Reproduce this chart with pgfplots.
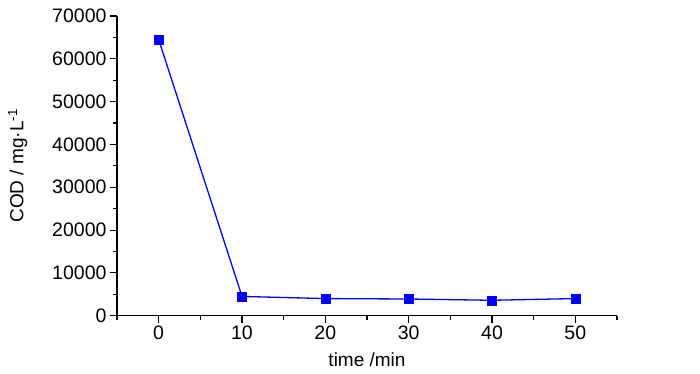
\documentclass[border=0pt]{standalone}
\usepackage{pgfplots}
\pgfplotsset{compat=1.18}
\usepackage{fontspec}
\setmainfont{Liberation Sans}
\begin{document}
\begin{tikzpicture}[x=1pt,y=1pt]
\path[use as bounding box] (0,0) rectangle (700,374);
\begin{axis}[
  at={(117pt,58.3pt)}, anchor=south west,
  width=500pt, height=299.7pt, scale only axis,
  xmin=-5, xmax=55, ymin=0, ymax=70000,
  axis lines=left, axis line style={line width=1.3pt,-},
  xtick={0,10,20,30,40,50},
  minor xtick={-5,5,15,25,35,45,55},
  ytick={0,10000,...,70000},
  minor ytick={5000,15000,...,65000},
  tick align=outside,
  major tick length=7pt, minor tick length=4pt,
  every tick/.style={line width=1.1pt,black},
  tick pos=left,
  scaled y ticks=false,
  /pgf/number format/assume math mode=true,
  yticklabel style={/pgf/number format/1000 sep={}},
  tick label style={font=\fontsize{19.5}{22}\selectfont},
  label style={font=\fontsize{19}{22}\selectfont},
  xlabel={time /min},
  ylabel={COD / mg·L\textsuperscript{-1}},
  xlabel style={yshift=-6pt},
  ylabel style={yshift=18pt},
  clip=false,
]
\addplot[color={rgb,255:red,0;green,0;blue,255}, line width=1.3pt, mark=square*, mark size=4.6pt,
  mark options={fill={rgb,255:red,0;green,0;blue,255}, draw={rgb,255:red,0;green,0;blue,255}, line width=0.3pt}]
coordinates {(0,64500) (10,4500) (20,4000) (30,3900) (40,3600) (50,4000)};
\end{axis}
\end{tikzpicture}
\end{document}
